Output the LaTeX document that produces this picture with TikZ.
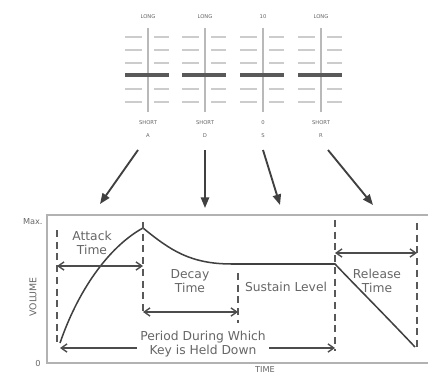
\documentclass[tikz,border=0pt]{standalone}
\usepackage{fontspec}
\setmainfont{DejaVu Sans}
\usetikzlibrary{arrows.meta,positioning}

\begin{document}
\begin{tikzpicture}[
  x=0.03cm, y=-0.03cm,
  rail/.style={line width=2.4pt, gray!55},
  notch/.style={line width=1.2pt, gray!40},
  knob/.style={line width=3.4pt, black!65},
  small/.style={font=\fontsize{4.5}{5}\selectfont, text=black!60, inner sep=0.5pt},
  txt/.style={font=\fontsize{10.5}{12}\selectfont, text=black!60, align=center, inner sep=1pt},
  frame/.style={line width=1.6pt, gray!60},
  env/.style={line width=1.3pt, black!75},
  guide/.style={dash pattern=on 6pt off 4pt, line width=1pt, gray!70!black},
  span/.style={{Straight Barb[length=5pt,width=7pt]}-{Straight Barb[length=5pt,width=7pt]},
               line width=1.2pt, black!70},
  feed/.style={-{Triangle[length=9pt,width=7pt]}, line width=1.6pt, black!75}
]
\useasboundingbox (0,0) rectangle (428,375);

% Sliders
\foreach \cx/\hi/\lo/\stage [count=\i] in {148/LONG/SHORT/A, 205/LONG/SHORT/D,
                                           263/10/0/S, 321/LONG/SHORT/R} {
  \draw[rail] (\cx,28) -- (\cx,112);
  \foreach \y in {37,50,63,89,102} {
    \draw[notch] (\cx-23,\y) -- (\cx-6,\y);
    \draw[notch] (\cx+6,\y) -- (\cx+21,\y);
  }
  \draw[knob] (\cx-23,75) -- (\cx+21,75);
  \node[small] (hi\i) at (\cx,17) {\hi};
  \node[small] (lo\i) at (\cx,123) {\lo};
  \node[small, below=6pt of lo\i] (key\i) {\stage};
}

% Feeds into the graph
\coordinate (f1) at (138,150); \coordinate (t1) at (100,204);
\coordinate (f2) at (205,150); \coordinate (t2) at (205,208);
\coordinate (f3) at (263,150); \coordinate (t3) at (280,205);
\coordinate (f4) at (328,150); \coordinate (t4) at (373,205);
\foreach \i in {1,...,4} \draw[feed] (f\i) -- (t\i);

% Graph frame
\draw[frame] (428,215) -- (47,215) -- (47,363) -- (428,363);
\node[txt, anchor=east, font=\fontsize{7}{8}\selectfont] (max) at (44,222) {Max.};
\node[txt, font=\fontsize{7}{8}\selectfont] (zero) at (38,364) {0};
\node[txt, rotate=90, font=\fontsize{8}{9}\selectfont] (vol) at (33,297) {VOLUME};
\node[txt, font=\fontsize{7}{8}\selectfont] (time) at (265,370) {TIME};

% Envelope
\coordinate (start) at (60,343);
\coordinate (peak) at (143,228);
\coordinate (sus) at (232,264);
\coordinate (rel) at (335,264);
\coordinate (stop) at (415,347);
\draw[env] (start) .. controls (80,285) and (112,245) .. (peak)
  .. controls (170,250) and (190,264) .. (sus) -- (rel)
  .. controls (350,280) and (380,310) .. (stop);

% Stage markers
\draw[guide] (57,230) -- (57,343);
\draw[guide] (143,222) -- (143,314);
\draw[guide] (238,273) -- (238,323);
\draw[guide] (335,220) -- (335,351);
\draw[guide] (417,223) -- (417,348);

% Spans
\coordinate (att1) at (57,266); \coordinate (att2) at (143,266);
\coordinate (dec1) at (143,312); \coordinate (dec2) at (238,312);
\coordinate (rls1) at (335,253); \coordinate (rls2) at (417,253);
\coordinate (hold1) at (60,348); \coordinate (hold2) at (335,348);
\draw[span] (att1) -- (att2);
\draw[span] (dec1) -- (dec2);
\draw[span] (rls1) -- (rls2);
\draw[span] (hold1) -- (hold2);

% Labels
\node[txt] (attack) at (92,243) {Attack\\Time};
\node[txt] (decay) at (190,281) {Decay\\Time};
\node[txt] (sustain) at (286,287) {Sustain Level};
\node[txt] (release) at (377,281) {Release\\Time};
\node[txt, fill=white, inner xsep=3pt] (held) at (203,344) {Period During Which\\Key is Held Down};
\end{tikzpicture}
\end{document}
